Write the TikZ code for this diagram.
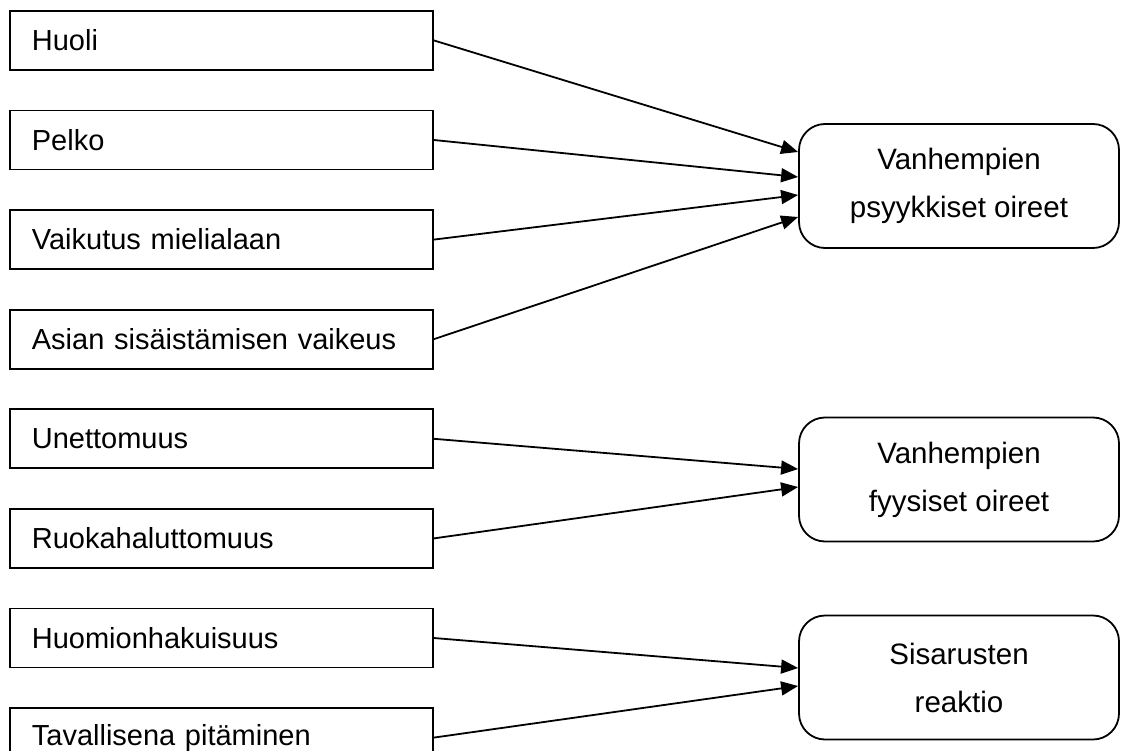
\documentclass[tikz,border=0pt]{standalone}
\usepackage{fontspec}
\setmainfont{Liberation Sans}
\usetikzlibrary{positioning}
\usetikzlibrary{arrows.meta}

\begin{document}
\begin{tikzpicture}[x=1pt,y=-1pt,node distance=38.8pt,
		syy/.style={draw,rectangle,line width=1.8pt,minimum height=59pt,text width=379pt,inner xsep=22pt,inner ysep=0pt,align=left,font=\fontsize{29}{35}\selectfont},
		oire/.style={draw,rectangle,rounded corners=26pt,line width=1.8pt,minimum width=320pt,minimum height=124pt,align=center,font=\fontsize{29.5}{48}\selectfont},
		nuoli/.style={line width=1.8pt,-{Triangle[length=17pt,width=14pt]}}]
		\useasboundingbox (0,0) rectangle (1121,751);
		\node (huoli) [syy,anchor=north west] at (9,10) {Huoli};
		\node (pelko) [syy,below=of huoli] {Pelko};
		\node (mieli) [syy,below=of pelko] {Vaikutus mielialaan};
		\node (asia)  [syy,below=of mieli] {Asian sisäistämisen vaikeus};
		\node (uni)   [syy,below=of asia]  {Unettomuus};
		\node (ruoka) [syy,below=of uni]   {Ruokahaluttomuus};
		\node (huomio) [syy,below=of ruoka] {Huomionhakuisuus};
		\node (tav)   [syy,below=of huomio] {Tavallisena pitäminen};
		\node (psy) [oire] at (959,186)   {Vanhempien\\psyykkiset oireet};
		\node (fyy) [oire] at (959,479.5) {Vanhempien\\fyysiset oireet};
		\node (sis) [oire] at (959,677.5) {Sisarusten\\reaktio};
		\draw[nuoli] (huoli.east) -- ([yshift=34pt]psy.west);
		\draw[nuoli] (pelko.east) -- ([yshift=9pt]psy.west);
		\draw[nuoli] (mieli.east) -- ([yshift=-9pt]psy.west);
		\draw[nuoli] (asia.east) -- ([yshift=-31pt]psy.west);
		\draw[nuoli] (uni.east) -- ([yshift=10.5pt]fyy.west);
		\draw[nuoli] (ruoka.east) -- ([yshift=-7.5pt]fyy.west);
		\draw[nuoli] (huomio.east) -- ([yshift=9.5pt]sis.west);
		\draw[nuoli] (tav.east) -- ([yshift=-8.5pt]sis.west);
	\end{tikzpicture}
\end{document}
